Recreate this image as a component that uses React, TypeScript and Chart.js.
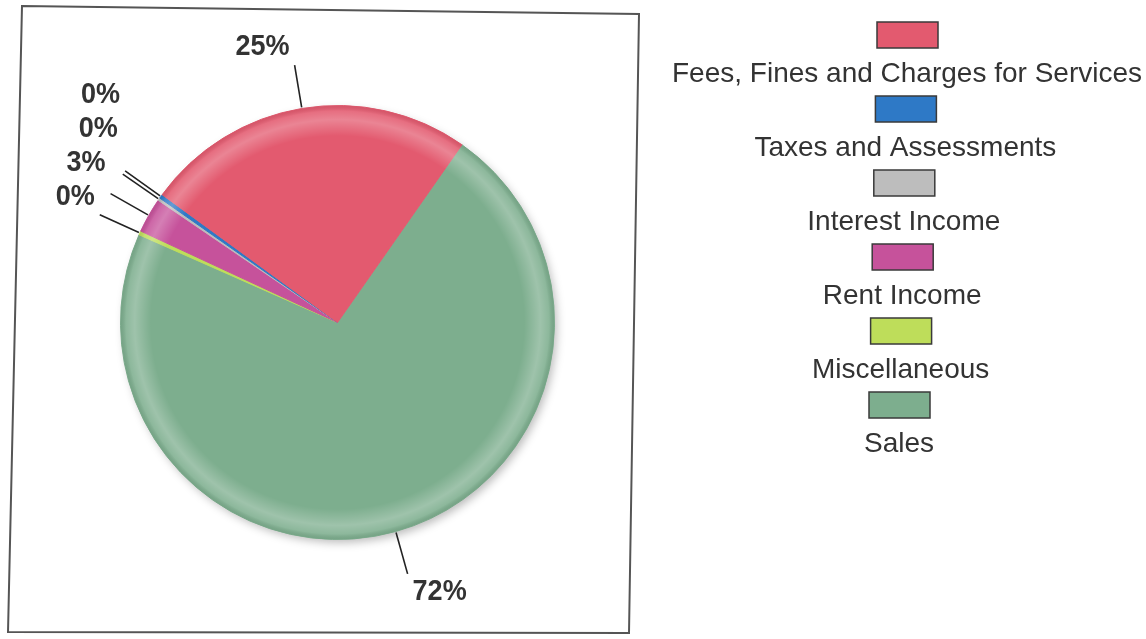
import React, { useEffect, useRef } from "react";
import { Chart, registerables } from "chart.js";

Chart.register(...registerables);

// ---- data (legend order) ----
const categories = [
  "Fees, Fines and Charges for Services",
  "Taxes and Assessments",
  "Interest Income",
  "Rent Income",
  "Miscellaneous",
  "Sales",
];
const values = [24.7, 0.3, 0.2, 2.6, 0.3, 71.9];
const percentLabels = ["25%", "0%", "0%", "3%", "0%", "72%"];
const sliceColors = ["#E35A6F", "#2E79C6", "#BDBDBD", "#C6529B", "#BEDD5A", "#7DAE8E"];

// slices are laid out counter-clockwise in the original, so draw in reverse order
const drawOrder = [5, 4, 3, 2, 1, 0];

const FONT = '"Liberation Sans", Arial, Helvetica, sans-serif';
const TEXT_COLOR = "#333333";

const shadingPlugin = {
  id: "pieShading",
  beforeDatasetsDraw(chart: any) {
    const meta = chart.getDatasetMeta(0);
    if (!meta.data.length) return;
    const a = meta.data[0];
    const { x, y, outerRadius } = a.getProps(["x", "y", "outerRadius"], true);
    const ctx = chart.ctx;
    ctx.save();
    ctx.shadowColor = "rgba(0,0,0,0.28)";
    ctx.shadowBlur = 10;
    ctx.shadowOffsetX = 3;
    ctx.shadowOffsetY = 4;
    ctx.fillStyle = "#ffffff";
    ctx.beginPath();
    ctx.arc(x, y, outerRadius - 1, 0, Math.PI * 2);
    ctx.fill();
    ctx.restore();
  },
  afterDatasetsDraw(chart: any) {
    const meta = chart.getDatasetMeta(0);
    if (!meta.data.length) return;
    const a = meta.data[0];
    const { x, y, outerRadius } = a.getProps(["x", "y", "outerRadius"], true);
    const ctx = chart.ctx;
    ctx.save();
    const g = ctx.createRadialGradient(x, y, 0, x, y, outerRadius);
    g.addColorStop(0, "rgba(255,255,255,0)");
    g.addColorStop(0.86, "rgba(255,255,255,0)");
    g.addColorStop(0.935, "rgba(255,255,255,0.26)");
    g.addColorStop(0.975, "rgba(255,255,255,0.12)");
    g.addColorStop(1, "rgba(0,0,0,0.06)");
    ctx.fillStyle = g;
    ctx.beginPath();
    ctx.arc(x, y, outerRadius, 0, Math.PI * 2);
    ctx.fill();
    ctx.restore();
  },
};

const labelPlugin = {
  id: "sliceLabels",
  afterDatasetsDraw(chart: any) {
    const ctx = chart.ctx;
    const meta = chart.getDatasetMeta(0);
    const labels: string[] = chart.data.datasets[0].pctLabels;
    const items = meta.data.map((arc: any, j: number) => {
      const { x, y, startAngle, endAngle, outerRadius } = arc.getProps(
        ["x", "y", "startAngle", "endAngle", "outerRadius"],
        true
      );
      const mid = (startAngle + endAngle) / 2;
      const c = Math.cos(mid);
      const s = Math.sin(mid);
      const p0 = { x: x + c * (outerRadius + 1), y: y + s * (outerRadius + 1) };
      const p1 = { x: x + c * (outerRadius + 44), y: y + s * (outerRadius + 44) };
      const left = c < 0;
      const up = s < 0;
      return {
        text: labels[j],
        p0,
        p1,
        left,
        up,
        baseline: up ? p1.y - 10 : p1.y + 26,
      };
    });
    // simple collision avoidance for the upper-left cluster
    const group = items
      .filter((it: any) => it.left && it.up)
      .sort((a: any, b: any) => b.baseline - a.baseline);
    for (let k = 1; k < group.length; k++) {
      group[k].baseline = Math.min(group[k].baseline, group[k - 1].baseline - 34);
    }
    ctx.save();
    ctx.strokeStyle = "#222222";
    ctx.lineWidth = 1.6;
    items.forEach((it: any) => {
      ctx.beginPath();
      ctx.moveTo(it.p0.x, it.p0.y);
      ctx.lineTo(it.p1.x, it.p1.y);
      ctx.stroke();
    });
    ctx.fillStyle = TEXT_COLOR;
    ctx.font = `bold 30px ${FONT}`;
    ctx.textBaseline = "alphabetic";
    items.forEach((it: any) => {
      const tx = it.left ? it.p1.x - 5 : it.p1.x + 5;
      ctx.save();
      ctx.translate(tx, it.baseline);
      ctx.scale(0.9, 1);
      ctx.textAlign = it.left ? "right" : "left";
      ctx.fillText(it.text, 0, 0);
      ctx.restore();
    });
    ctx.restore();
  },
};

const frameAndLegendPlugin = {
  id: "frameLegend",
  afterDraw(chart: any) {
    const ctx = chart.ctx;
    ctx.save();
    // frame around the plot
    ctx.strokeStyle = "#555555";
    ctx.lineWidth = 2;
    ctx.beginPath();
    ctx.moveTo(22, 6);
    ctx.lineTo(639, 14);
    ctx.lineTo(629, 633);
    ctx.lineTo(8, 632);
    ctx.closePath();
    ctx.stroke();

    // vertical legend: box above centred label
    ctx.font = `28px ${FONT}`;
    ctx.textAlign = "center";
    ctx.textBaseline = "alphabetic";
    categories.forEach((name, i) => {
      const cx = 907 - i * 1.6;
      const top = 22 + i * 74;
      ctx.fillStyle = sliceColors[i];
      ctx.fillRect(cx - 30, top, 61, 26);
      ctx.strokeStyle = "#3a3a3a";
      ctx.lineWidth = 1.5;
      ctx.strokeRect(cx - 30, top, 61, 26);
      ctx.fillStyle = TEXT_COLOR;
      ctx.fillText(name, cx, top + 60);
    });
    ctx.restore();
  },
};

export default function App() {
  const ref = useRef<HTMLCanvasElement | null>(null);
  useEffect(() => {
    if (!ref.current) return;
    const chart = new Chart(ref.current, {
      type: "pie",
      data: {
        labels: drawOrder.map((i) => categories[i]),
        datasets: [
          {
            data: drawOrder.map((i) => values[i]),
            backgroundColor: drawOrder.map((i) => sliceColors[i]),
            borderColor: drawOrder.map((i) => sliceColors[i]),
            borderWidth: 1,
            hoverOffset: 0,
            pctLabels: drawOrder.map((i) => percentLabels[i]),
          } as any,
        ],
      },
      options: {
        responsive: false,
        animation: false,
        rotation: 35,
        layout: { padding: { left: 120, top: 105, right: 591, bottom: 99 } },
        plugins: {
          legend: { display: false },
          tooltip: { enabled: false },
        },
      },
      plugins: [shadingPlugin, labelPlugin, frameAndLegendPlugin],
    });
    return () => chart.destroy();
  }, []);
  return (
    <div style={{ position: "fixed", left: 0, top: 0, width: 1146, height: 639, background: "#fff" }}>
      <canvas ref={ref} width={1146} height={639} style={{ display: "block" }} />
    </div>
  );
}
